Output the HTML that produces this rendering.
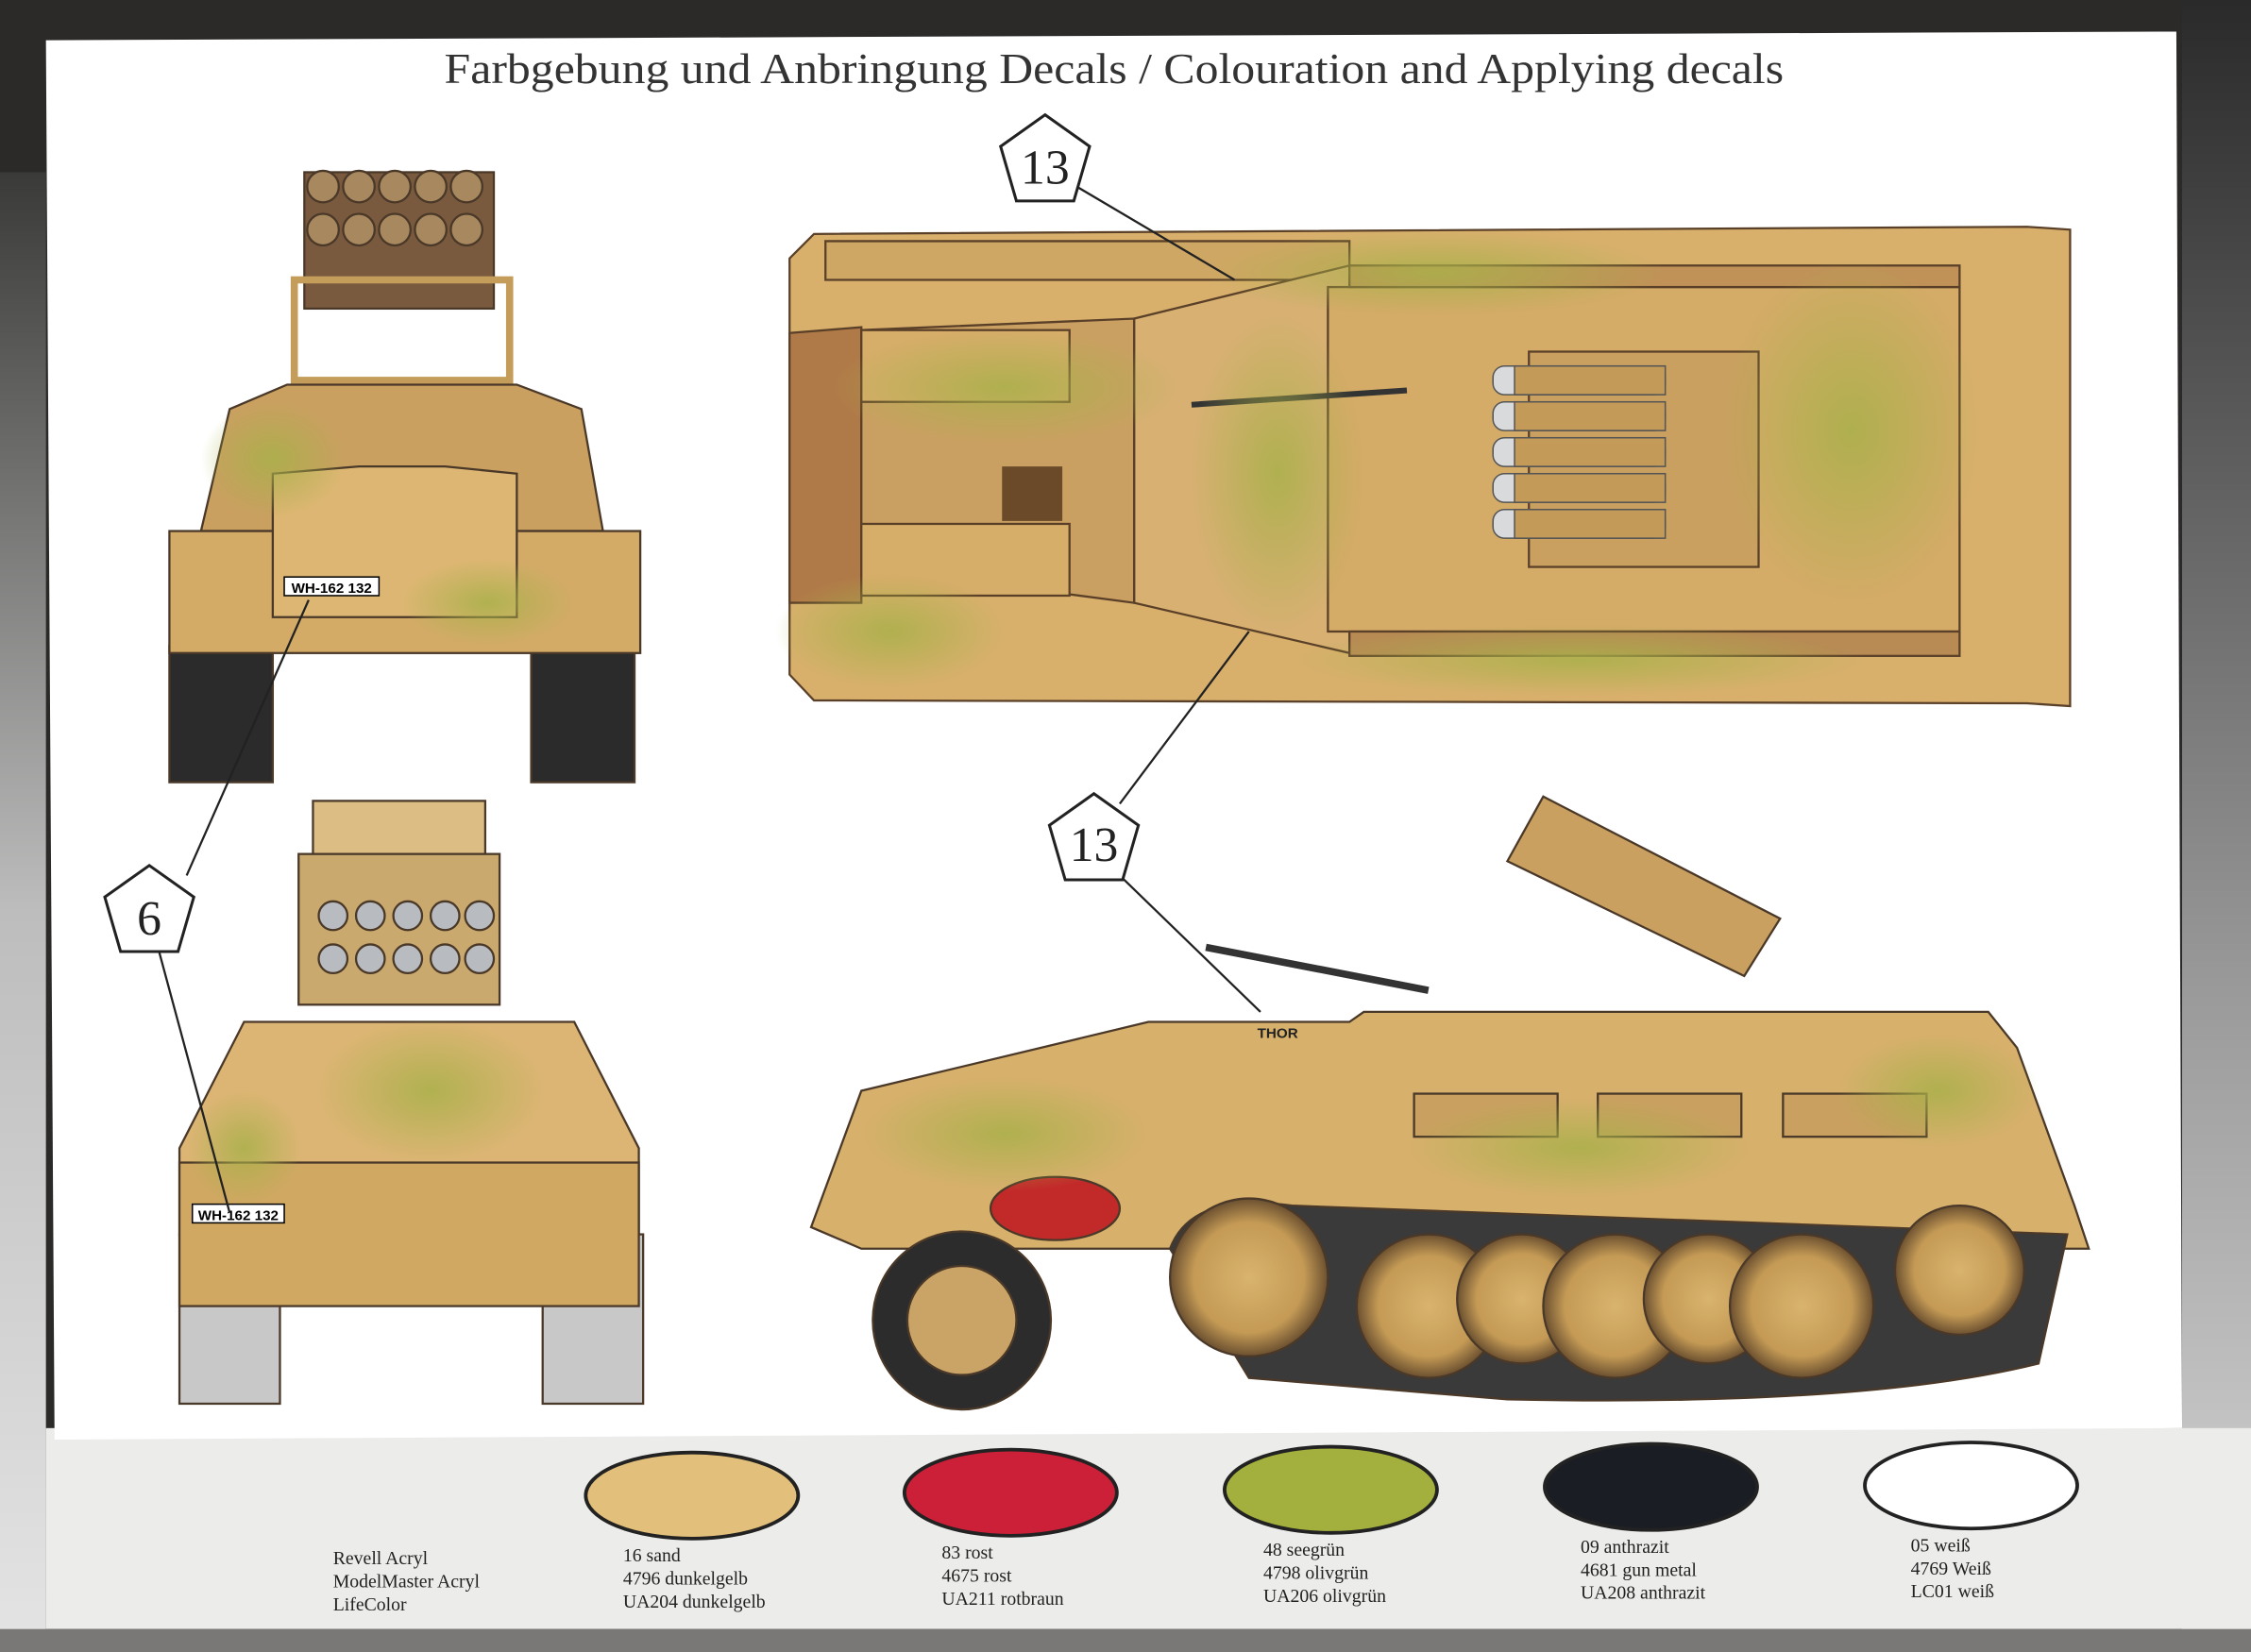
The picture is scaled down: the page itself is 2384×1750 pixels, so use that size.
<!DOCTYPE html>
<html><head><meta charset="utf-8"><style>
html,body{margin:0;padding:0;width:2384px;height:1750px;overflow:hidden;background:#2b2a29}
svg{display:block}
</style></head><body>
<svg width="2384" height="1750" viewBox="0 0 1568 1151" preserveAspectRatio="none" xmlns="http://www.w3.org/2000/svg">
<defs>
<linearGradient id="lg" x1="0" x2="0" y1="0" y2="1"><stop offset="0" stop-color="#3a3a38"/><stop offset="0.5" stop-color="#bdbdbd"/><stop offset="1" stop-color="#e4e4e4"/></linearGradient>
<linearGradient id="rg" x1="0" x2="0" y1="0" y2="1"><stop offset="0" stop-color="#2a2a2a"/><stop offset="0.6" stop-color="#9a9a9a"/><stop offset="1" stop-color="#d8d8d8"/></linearGradient>
<radialGradient id="cam" cx="0.5" cy="0.5" r="0.5"><stop offset="0" stop-color="#a9b04a" stop-opacity="0.85"/><stop offset="1" stop-color="#a9b04a" stop-opacity="0"/></radialGradient>
<radialGradient id="wh" cx="0.5" cy="0.5" r="0.5"><stop offset="0" stop-color="#d9b46e"/><stop offset="0.7" stop-color="#c49a55"/><stop offset="1" stop-color="#6b5030"/></radialGradient>
</defs>
<rect x="0" y="0" width="1568" height="1151" fill="#2b2a29"/>
<rect x="0" y="120" width="32" height="1031" fill="url(#lg)"/>
<rect x="1520" y="0" width="48" height="1151" fill="url(#rg)"/>
<rect x="32" y="995" width="1536" height="140" fill="#ececea"/>
<rect x="0" y="1135" width="1568" height="16" fill="#7a7876"/>
<polygon points="32,28 1516,22 1520,995 38,1003" fill="#ffffff"/>
<text x="776" y="58" text-anchor="middle" font-family="Liberation Serif, serif" font-size="30" textLength="933" lengthAdjust="spacingAndGlyphs" fill="#333">Farbgebung und Anbringung Decals / Colouration and Applying decals</text>

<!-- TOP VIEW -->
<g stroke="#5a4028" stroke-width="1.5">
<polygon points="567,163 1412,158 1442,160 1442,492 1412,490 567,488 550,470 550,180" fill="#d8b06c"/>
<polygon points="575,168 940,168 940,195 575,195" fill="#cfa764"/>
<polygon points="550,232 600,228 600,420 550,420" fill="#b07a48"/>
<polygon points="790,222 940,185 940,455 790,420" fill="#d7b072"/>
<rect x="925" y="200" width="440" height="240" fill="#d4ab67"/>
<rect x="1065" y="245" width="160" height="150" fill="#c9a060"/>
<polygon points="600,230 790,222 790,420 600,395" fill="#caa062"/>
<rect x="600" y="230" width="145" height="50" fill="#d6ad69"/>
<rect x="600" y="365" width="145" height="50" fill="#d6ad69"/>
<rect x="940" y="440" width="425" height="17" fill="#b88a54"/>
<rect x="940" y="185" width="425" height="15" fill="#c09258"/>
</g>
<g fill="#d8dadc" stroke="#555">
<rect x="1040" y="255" width="120" height="20" rx="8"/><rect x="1040" y="280" width="120" height="20" rx="8"/><rect x="1040" y="305" width="120" height="20" rx="8"/><rect x="1040" y="330" width="120" height="20" rx="8"/><rect x="1040" y="355" width="120" height="20" rx="8"/>
</g>
<g fill="#c49a58" stroke="#555"><rect x="1055" y="255" width="105" height="20"/><rect x="1055" y="280" width="105" height="20"/><rect x="1055" y="305" width="105" height="20"/><rect x="1055" y="330" width="105" height="20"/><rect x="1055" y="355" width="105" height="20"/></g>
<rect x="698" y="325" width="42" height="38" fill="#6b4a2a"/>
<line x1="830" y1="282" x2="980" y2="272" stroke="#333" stroke-width="4"/>
<ellipse cx="700" cy="270" rx="120" ry="40" fill="url(#cam)"/><ellipse cx="1000" cy="190" rx="160" ry="30" fill="url(#cam)"/>
<ellipse cx="890" cy="330" rx="60" ry="110" fill="url(#cam)"/><ellipse cx="1290" cy="300" rx="90" ry="120" fill="url(#cam)"/>
<ellipse cx="1100" cy="460" rx="200" ry="25" fill="url(#cam)"/><ellipse cx="620" cy="440" rx="80" ry="40" fill="url(#cam)"/>

<!-- FRONT VIEW -->
<g stroke="#4a3828" stroke-width="1.5">
<rect x="212" y="120" width="132" height="95" fill="#7a5a3e"/>
<g fill="#a8885e"><circle cx="225" cy="130" r="11"/><circle cx="250" cy="130" r="11"/><circle cx="275" cy="130" r="11"/><circle cx="300" cy="130" r="11"/><circle cx="325" cy="130" r="11"/><circle cx="225" cy="160" r="11"/><circle cx="250" cy="160" r="11"/><circle cx="275" cy="160" r="11"/><circle cx="300" cy="160" r="11"/><circle cx="325" cy="160" r="11"/></g>
<rect x="205" y="195" width="150" height="70" fill="none" stroke-width="5" stroke="#c59d5a"/>
<rect x="118" y="450" width="72" height="95" fill="#2b2b2b"/><rect x="370" y="450" width="72" height="95" fill="#2b2b2b"/>
<polygon points="140,370 160,285 200,268 360,268 405,285 420,370" fill="#c9a060"/>
<rect x="118" y="370" width="328" height="85" fill="#d3ab67"/>
<polygon points="190,330 250,325 310,325 360,330 360,430 190,430" fill="#dcb672"/>
</g>
<rect x="198" y="402" width="66" height="13" fill="#fff" stroke="#000"/>
<text x="231" y="413" text-anchor="middle" font-family="Liberation Sans, sans-serif" font-size="10" font-weight="bold">WH-162 132</text>
<ellipse cx="190" cy="320" rx="50" ry="40" fill="url(#cam)"/><ellipse cx="340" cy="420" rx="60" ry="30" fill="url(#cam)"/>

<!-- REAR VIEW -->
<g stroke="#4a3828" stroke-width="1.5">
<rect x="218" y="558" width="120" height="40" fill="#dcbd84"/>
<rect x="208" y="595" width="140" height="105" fill="#c9a96e"/>
<g fill="#b8bcc0"><circle cx="232" cy="638" r="10"/><circle cx="258" cy="638" r="10"/><circle cx="284" cy="638" r="10"/><circle cx="310" cy="638" r="10"/><circle cx="334" cy="638" r="10"/><circle cx="232" cy="668" r="10"/><circle cx="258" cy="668" r="10"/><circle cx="284" cy="668" r="10"/><circle cx="310" cy="668" r="10"/><circle cx="334" cy="668" r="10"/></g>
<rect x="125" y="860" width="70" height="118" fill="#c8c8c8"/><rect x="378" y="860" width="70" height="118" fill="#c8c8c8"/>
<polygon points="170,712 400,712 445,800 445,860 125,860 125,800" fill="#dcb574"/>
<rect x="125" y="810" width="320" height="100" fill="#d0a862"/>
</g>
<rect x="134" y="839" width="64" height="13" fill="#fff" stroke="#000"/>
<text x="166" y="850" text-anchor="middle" font-family="Liberation Sans, sans-serif" font-size="10" font-weight="bold">WH-162 132</text>
<ellipse cx="300" cy="760" rx="80" ry="50" fill="url(#cam)"/><ellipse cx="170" cy="800" rx="40" ry="40" fill="url(#cam)"/>

<!-- SIDE VIEW -->
<g stroke="#4a3828" stroke-width="1.5">
<polygon points="1050,600 1075,555 1240,640 1215,680" fill="#c9a060"/>
<polygon points="800,712 940,712 950,705 1385,705 1405,730 1445,840 1455,870 600,870 565,855 600,760" fill="#d7b06c"/>
<rect x="985" y="762" width="100" height="30" fill="#c9a060"/><rect x="1113" y="762" width="100" height="30" fill="#c9a060"/><rect x="1242" y="762" width="100" height="30" fill="#c9a060"/>
<path d="M815,870 Q830,830 900,840 L1440,860 L1420,950 Q1300,980 1050,975 L870,960 Z" fill="#3a3a3a"/>
<circle cx="670" cy="920" r="62" fill="#2c2c2c"/><circle cx="670" cy="920" r="38" fill="#c9a466"/>
<circle cx="870" cy="890" r="55" fill="url(#wh)"/>
<circle cx="995" cy="910" r="50" fill="url(#wh)"/><circle cx="1060" cy="905" r="45" fill="url(#wh)"/><circle cx="1125" cy="910" r="50" fill="url(#wh)"/><circle cx="1190" cy="905" r="45" fill="url(#wh)"/><circle cx="1255" cy="910" r="50" fill="url(#wh)"/>
<circle cx="1365" cy="885" r="45" fill="url(#wh)"/>
<ellipse cx="735" cy="842" rx="45" ry="22" fill="#c22a2a"/>
</g>
<line x1="840" y1="660" x2="995" y2="690" stroke="#333" stroke-width="5"/>
<text x="890" y="723" text-anchor="middle" font-family="Liberation Sans, sans-serif" font-size="10" font-weight="bold" fill="#222">THOR</text>
<ellipse cx="700" cy="790" rx="100" ry="40" fill="url(#cam)"/><ellipse cx="1100" cy="800" rx="120" ry="35" fill="url(#cam)"/><ellipse cx="1350" cy="760" rx="70" ry="40" fill="url(#cam)"/>

<!-- callouts -->
<g stroke="#222" stroke-width="1.5" fill="none">
<line x1="750" y1="130" x2="860" y2="195"/><line x1="780" y1="560" x2="870" y2="440"/><line x1="780" y1="610" x2="878" y2="705"/>
<line x1="130" y1="610" x2="215" y2="418"/><line x1="110" y1="660" x2="160" y2="845"/>
</g>
<g fill="#fff" stroke="#222" stroke-width="2">
<polygon points="728,80 759,102 748,140 708,140 697,102"/>
<polygon points="762,553 793,575 782,613 742,613 731,575"/>
<polygon points="104,603 135,625 124,663 84,663 73,625"/>
</g>
<g font-family="Liberation Serif, serif" font-size="34" text-anchor="middle" fill="#222">
<text x="728" y="128">13</text><text x="762" y="600">13</text><text x="104" y="651">6</text></g>

<!-- legend -->
<g stroke="#222" stroke-width="2.5">
<ellipse cx="482" cy="1042" rx="74" ry="30" fill="#e2bf7a"/>
<ellipse cx="704" cy="1040" rx="74" ry="30" fill="#cc2038"/>
<ellipse cx="927" cy="1038" rx="74" ry="30" fill="#a4b03e"/>
<ellipse cx="1150" cy="1036" rx="74" ry="30" fill="#1a1d24"/>
<ellipse cx="1373" cy="1035" rx="74" ry="30" fill="#fff"/>
</g>
<g font-family="Liberation Serif, serif" font-size="13" fill="#222">
<text x="232" y="1090">Revell Acryl</text><text x="232" y="1106">ModelMaster Acryl</text><text x="232" y="1122">LifeColor</text>
<text x="434" y="1088">16 sand</text><text x="434" y="1104">4796 dunkelgelb</text><text x="434" y="1120">UA204 dunkelgelb</text>
<text x="656" y="1086">83 rost</text><text x="656" y="1102">4675 rost</text><text x="656" y="1118">UA211 rotbraun</text>
<text x="880" y="1084">48 seegrün</text><text x="880" y="1100">4798 olivgrün</text><text x="880" y="1116">UA206 olivgrün</text>
<text x="1101" y="1082">09 anthrazit</text><text x="1101" y="1098">4681 gun metal</text><text x="1101" y="1114">UA208 anthrazit</text>
<text x="1331" y="1081">05 weiß</text><text x="1331" y="1097">4769 Weiß</text><text x="1331" y="1113">LC01 weiß</text>
</g>
</svg>
</body></html>
